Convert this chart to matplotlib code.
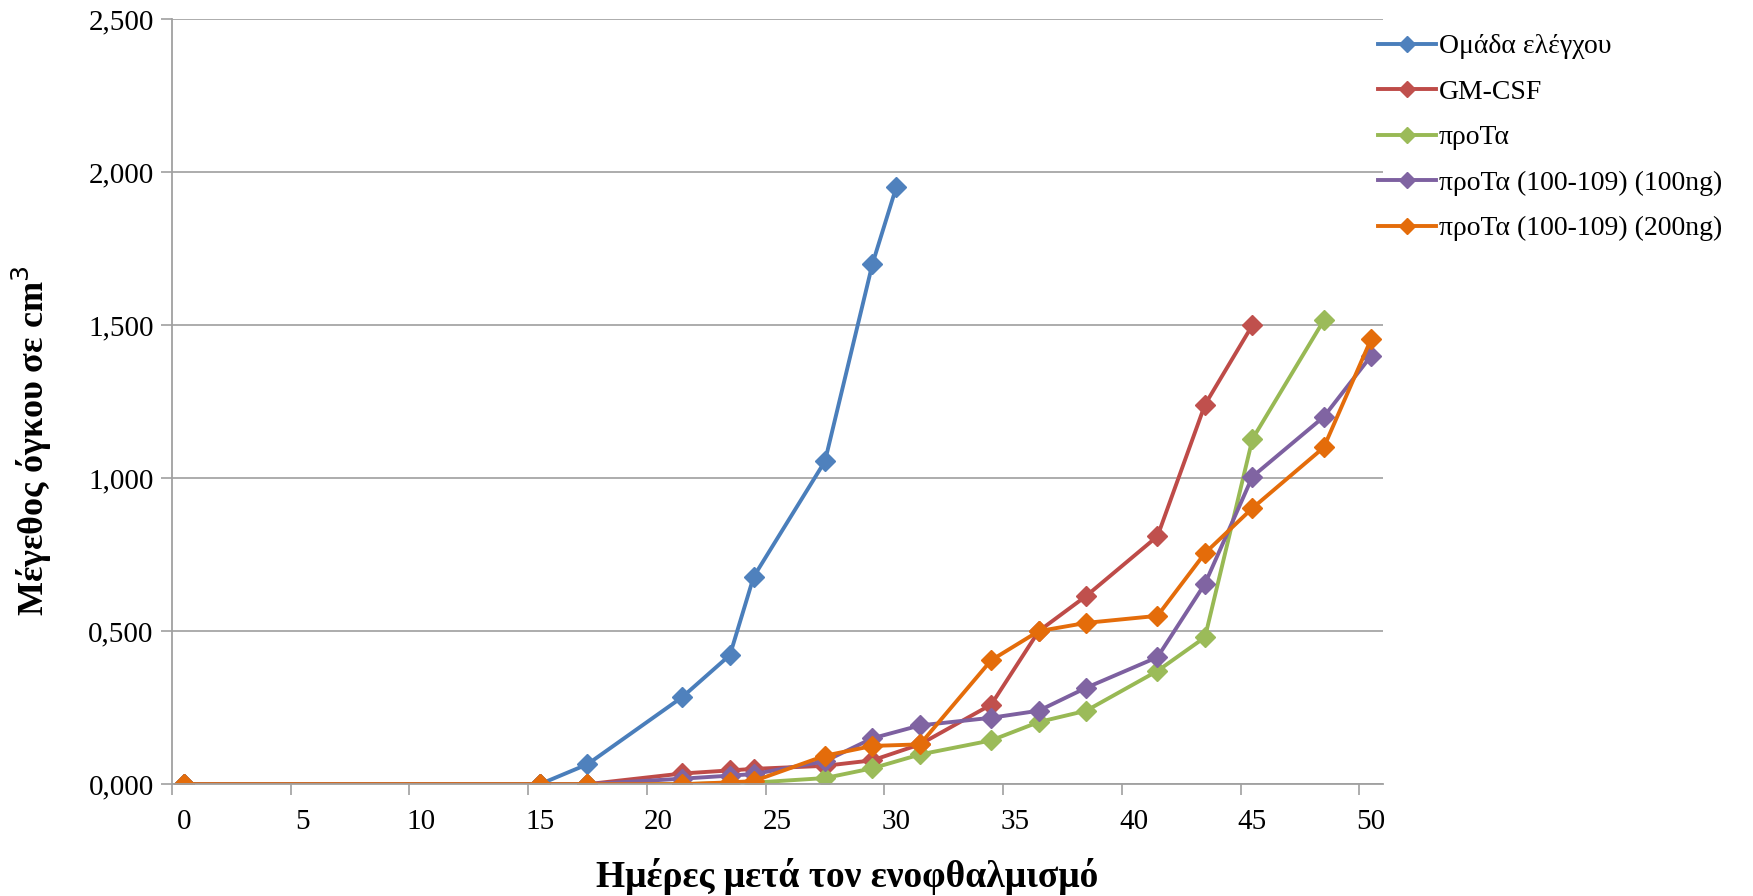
import matplotlib
matplotlib.use("Agg")
import matplotlib.pyplot as plt
from matplotlib.ticker import FixedLocator, FuncFormatter

plt.rcParams["font.family"] = ["Liberation Serif", "DejaVu Serif"]

# Days after inoculation and tumour volume (cm^3) per group
days_control = [0, 15, 17, 21, 23, 24, 27, 29, 30]
vol_control = [0.000, 0.000, 0.065, 0.285, 0.422, 0.678, 1.055, 1.700, 1.950]

days_gmcsf = [0, 15, 17, 21, 23, 24, 27, 29, 31, 34, 36, 38, 41, 43, 45]
vol_gmcsf = [0.000, 0.000, 0.000, 0.035, 0.045, 0.050, 0.060, 0.078, 0.130,
             0.260, 0.500, 0.615, 0.810, 1.240, 1.500]

days_prota = [0, 15, 17, 21, 23, 24, 27, 29, 31, 34, 36, 38, 41, 43, 45, 48]
vol_prota = [0.000, 0.000, 0.000, 0.000, 0.004, 0.005, 0.020, 0.052, 0.097,
             0.143, 0.203, 0.240, 0.370, 0.480, 1.128, 1.515]

days_p100 = [0, 15, 17, 21, 23, 24, 27, 29, 31, 34, 36, 38, 41, 43, 45, 48, 50]
vol_p100 = [0.000, 0.000, 0.000, 0.018, 0.028, 0.033, 0.075, 0.150, 0.192,
            0.217, 0.240, 0.315, 0.415, 0.655, 1.005, 1.200, 1.400]

days_p200 = [0, 15, 17, 21, 23, 24, 27, 29, 31, 34, 36, 38, 41, 43, 45, 48, 50]
vol_p200 = [0.000, 0.000, 0.000, 0.000, 0.006, 0.010, 0.093, 0.125, 0.130,
            0.405, 0.500, 0.527, 0.550, 0.755, 0.902, 1.100, 1.455]

series_labels = ["Ομάδα ελέγχου", "GM-CSF", "προΤα",
                 "προΤα (100-109) (100ng)", "προΤα (100-109) (200ng)"]
x_tick_values = [0, 5, 10, 15, 20, 25, 30, 35, 40, 45, 50]
y_tick_values = [0.0, 0.5, 1.0, 1.5, 2.0, 2.5]

line_colors = ["#4A7EBB", "#BE4B48", "#98B954", "#7D60A0", "#E46C0A"]
marker_colors = ["#4F81BD", "#C0504D", "#9BBB59", "#8064A2", "#E46C0A"]

fig = plt.figure(figsize=(17.53, 8.96), dpi=100)
ax = fig.add_axes([0.098, 0.1248, 0.691, 0.854])

all_days = [days_control, days_gmcsf, days_prota, days_p100, days_p200]
all_vols = [vol_control, vol_gmcsf, vol_prota, vol_p100, vol_p200]
handles = []
for d, v, lab, lc, mc in zip(all_days, all_vols, series_labels, line_colors, marker_colors):
    h, = ax.plot(d, v, color=lc, lw=2.8, marker="D", ms=10.5,
                 markerfacecolor=mc, markeredgecolor=mc, label=lab,
                 solid_joinstyle="round")
    handles.append(h)

ax.set_xlim(-0.5, 50.5)
ax.set_ylim(0, 2.5)

# labels on whole days, tick marks between categories
ax.xaxis.set_major_locator(FixedLocator(x_tick_values))
ax.xaxis.set_minor_locator(FixedLocator([t - 0.5 for t in x_tick_values]))
ax.tick_params(axis="x", which="major", length=0, pad=18, labelsize=21)
ax.tick_params(axis="x", which="minor", length=8, width=1.2, color="#A0A0A0",
               direction="out")

ax.yaxis.set_major_locator(FixedLocator(y_tick_values))
ax.yaxis.set_major_formatter(FuncFormatter(lambda v, p: f"{v:.3f}".replace(".", ",")))
ax.tick_params(axis="y", which="major", length=8, width=1.2, color="#A0A0A0",
               pad=5, labelsize=21, direction="out")

ax.grid(axis="y", color="#A6A6A6", lw=1.3)
ax.set_axisbelow(True)
for s in ["top", "right"]:
    ax.spines[s].set_visible(False)
for s in ["left", "bottom"]:
    ax.spines[s].set_color("#A0A0A0")
    ax.spines[s].set_linewidth(1.3)

fig.text(0.018, 0.508, "Μέγεθος όγκου σε cm$^3$", rotation=90, ha="center",
         va="center", fontsize=26, fontweight="bold")
fig.text(0.483, 0.022, "Ημέρες μετά τον ενοφθαλμισμό", ha="center",
         va="center", fontsize=27, fontweight="bold")

fig.legend(handles=handles, loc="upper left", bbox_to_anchor=(0.786, 0.962),
           frameon=False, fontsize=20, handlelength=2.1, handletextpad=0.1,
           labelspacing=0.72, borderpad=0, borderaxespad=0, markerscale=0.8)

fig.savefig("out.png", dpi=100, facecolor="white")
